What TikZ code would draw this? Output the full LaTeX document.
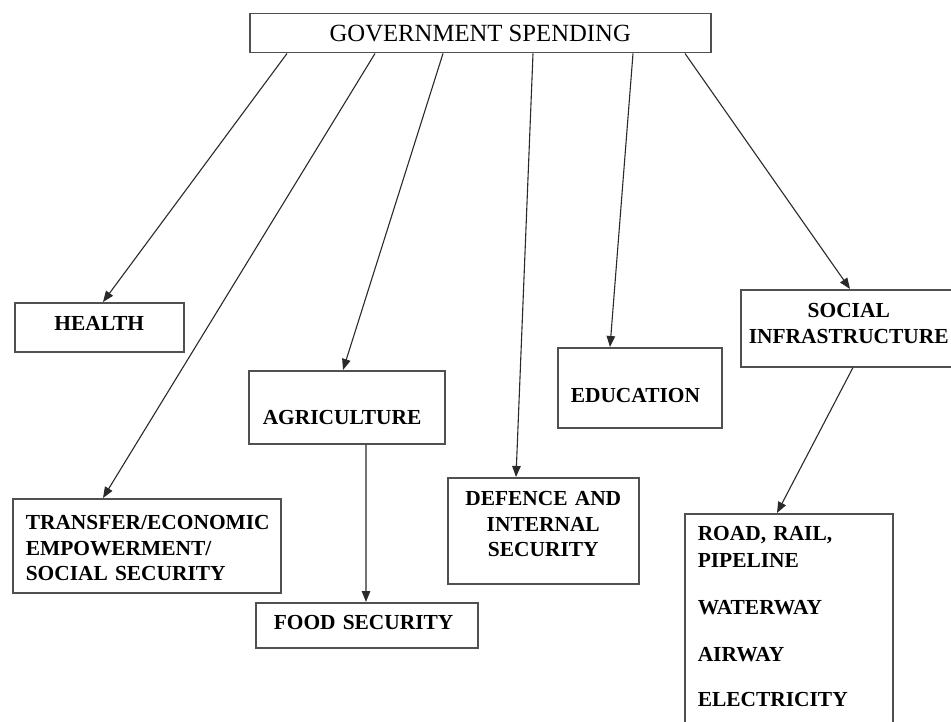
\documentclass[tikz,border=0pt]{standalone}
\usepackage{fontspec}
\setmainfont{Liberation Serif}
\usetikzlibrary{arrows.meta}
\definecolor{boxline}{HTML}{505050}
\definecolor{arrline}{HTML}{2A2A2A}
\begin{document}
\begin{tikzpicture}[x=1bp,y=-1bp,
  box/.style={draw=boxline,line width=1.5bp,inner ysep=0pt,anchor=north west,
    font=\bfseries\fontsize{21.5}{25.5}\selectfont},
  arr/.style={draw=arrline,line width=1.1bp,-{Triangle[length=11bp,width=8.5bp]}}]
\useasboundingbox (0,0) rectangle (951,722);
% top box
\node[box,font=\fontsize{24.8}{28}\selectfont,minimum width=461bp,text height=28bp,text depth=11bp] (gov) at (249,13) {GOVERNMENT SPENDING};
% spending heads
\node[box,minimum width=169bp,text height=27.5bp,text depth=21.5bp] (health) at (14,302) {HEALTH};
\node[box,text width=242bp,inner xsep=13bp,align=left,text height=31bp,text depth=63bp] (transfer) at (12,498) {TRANSFER/ECONOMIC\\EMPOWERMENT/\\SOCIAL SECURITY};
\node[box,text width=168bp,inner xsep=14bp,align=left,text height=54bp,text depth=19bp] (agri) at (248,370) {AGRICULTURE};
\node[box,text width=186bp,inner xsep=18bp,align=left,text height=27bp,text depth=18bp] (food) at (255,602) {FOOD SECURITY};
\node[box,text width=183bp,inner xsep=4bp,align=center,text height=28bp,text depth=78bp] (defence) at (447,477) {DEFENCE AND\\INTERNAL\\SECURITY};
\node[box,text width=138bp,inner xsep=13bp,align=left,text height=55bp,text depth=25bp] (educ) at (557,347) {EDUCATION};
\node[box,text width=208bp,inner xsep=4bp,align=center,text height=28bp,text depth=49bp] (social) at (740,289) {SOCIAL\\INFRASTRUCTURE};
\node[box,font=\bfseries\fontsize{21.5}{27}\selectfont,text width=182bp,inner xsep=13bp,align=left,text height=27bp,text depth=190bp] (road) at (684,513) {ROAD, RAIL,\\PIPELINE\\[20bp]WATERWAY\\[20bp]AIRWAY\\[18bp]ELECTRICITY};
% connectors
\draw[arr] ([xshift=38bp]gov.south west) -- ([xshift=89bp]health.north west);
\draw[arr] ([xshift=126bp]gov.south west) -- ([xshift=91bp]transfer.north west);
\draw[arr] ([xshift=194bp]gov.south west) -- ([xshift=95bp]agri.north west);
\draw[arr] ([xshift=284bp]gov.south west) -- ([xshift=69bp]defence.north west);
\draw[arr] ([xshift=384bp]gov.south west) -- ([xshift=53bp]educ.north west);
\draw[arr] ([xshift=436bp]gov.south west) -- ([xshift=110bp]social.north west);
\draw[arr] ([xshift=118bp]agri.south west) -- ([xshift=111bp]food.north west);
\draw[arr] ([xshift=113bp]social.south west) -- ([xshift=93bp]road.north west);
\end{tikzpicture}
\end{document}
